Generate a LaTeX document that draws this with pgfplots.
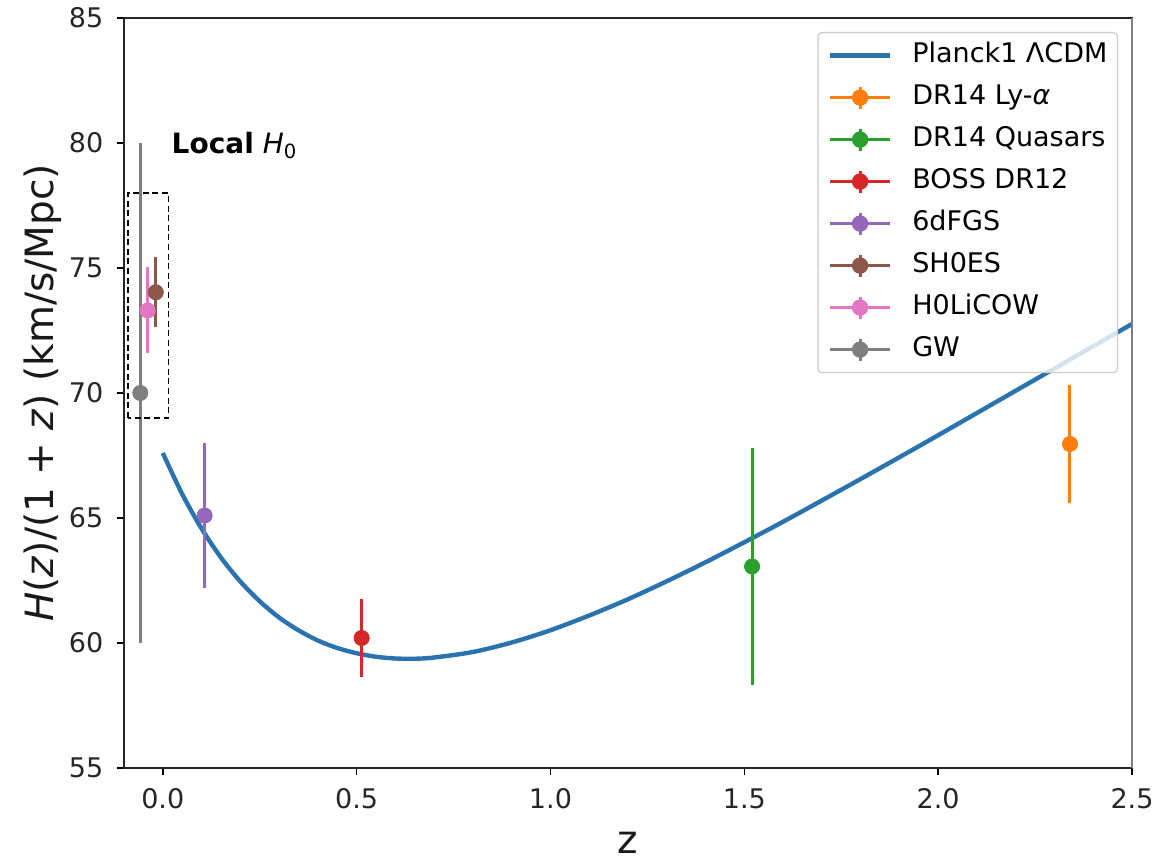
\documentclass[border=0pt]{standalone}
\usepackage{fontspec}
\setmainfont{DejaVu Sans}
\usepackage{pgfplots}
\pgfplotsset{compat=1.18}

\definecolor{tabblue}{HTML}{2A73AE}
\definecolor{taborange}{HTML}{FF7F0E}
\definecolor{tabgreen}{HTML}{2CA02C}
\definecolor{tabred}{HTML}{D62728}
\definecolor{tabpurple}{HTML}{9467BD}
\definecolor{tabbrown}{HTML}{8C564B}
\definecolor{tabpink}{HTML}{E377C2}
\definecolor{tabgray}{HTML}{7F7F7F}

% half-length of the error bar drawn in the legend (0pt: plain line entry)
\tikzset{legbar/.store in=\legbar, legbar=0pt}

% one measurement with a symmetric vertical error bar
\pgfplotsset{
  meas/.style={
    color=#1, mark=*, only marks, mark size=3.8pt,
    mark options={fill=#1, draw=#1},
    legbar=5.5pt,
    error bars/.cd, y dir=both, y explicit,
    error mark=none, error bar style={line width=1.5pt, color=#1}
  }
}

\begin{document}
\begin{tikzpicture}
\begin{axis}[
  scale only axis,
  width=504pt, height=375pt,
  xmin=-0.1, xmax=2.5,
  ymin=55, ymax=85,
  xtick={0,0.5,1,1.5,2,2.5},
  ytick={55,60,65,70,75,80,85},
  xticklabel style={/pgf/number format/fixed, /pgf/number format/fixed zerofill,
    /pgf/number format/precision=1, yshift=-3.4pt},
  yticklabel style={xshift=-3.4pt},
  /pgf/number format/assume math mode=true,
  tick label style={font=\fontsize{13.5}{16}\selectfont, text=black!85},
  tick align=outside,
  xtick pos=bottom, ytick pos=left,
  major tick length=3.4pt,
  every tick/.style={black, line width=0.75pt},
  axis line style={black!85, line width=0.8pt},
  xlabel={z},
  ylabel={\textit{H}(\textit{z})/(1 + \textit{z}) (km/s/Mpc)},
  label style={font=\fontsize{19.5}{23}\selectfont, text=black!90},
  xlabel style={yshift=-4.5pt},
  ylabel style={yshift=-3pt},
  clip=false,
  % legend glyph: line, plus vertical error bar and dot for measurements
  legend image code/.code={
    \begin{scope}[#1]
      \ifdim\legbar>0pt
        \draw[line width=1.5pt, draw opacity=1] (0pt,0pt) -- (30pt,0pt);
        \draw[line width=1.5pt, draw opacity=1] (15pt,-\legbar) -- (15pt,\legbar);
        \fill[fill opacity=1] (15pt,0pt) circle (3.8pt);
      \else
        \draw[draw opacity=1] (0pt,0pt) -- (30pt,0pt);
      \fi
    \end{scope}
  },
  legend cell align=left,
  legend style={
    at={(1,1)}, anchor=north east, xshift=-7pt, yshift=-7pt,
    draw=black!20, rounded corners=2pt, line width=0.6pt,
    fill=white, fill opacity=0.8, draw opacity=1, text opacity=1,
    font=\fontsize{13.5}{16}\selectfont,
    inner xsep=5pt, inner ysep=5pt,
    column sep=10pt, row sep=8pt,
    nodes={inner sep=0pt, text height=10pt, text depth=3pt},
  },
]

% Planck 2018 LCDM expansion rate H(z)/(1+z)
\addplot[color=tabblue, line width=2.2pt, smooth] coordinates {
  (0,67.60) (0.05,65.96) (0.1,64.58) (0.15,63.42) (0.2,62.46) (0.25,61.67)
  (0.3,61.02) (0.35,60.51) (0.4,60.10) (0.45,59.80) (0.5,59.59) (0.55,59.45)
  (0.6,59.38) (0.65,59.37) (0.7,59.42) (0.8,59.64) (0.9,60.02) (1.0,60.51)
  (1.1,61.10) (1.2,61.75) (1.3,62.47) (1.4,63.23) (1.5,64.03) (1.6,64.85)
  (1.7,65.70) (1.8,66.56) (1.9,67.43) (2.0,68.31) (2.1,69.20) (2.2,70.09)
  (2.3,70.98) (2.4,71.87) (2.5,72.76)
};
\addlegendentry{Planck1 ΛCDM}

\addplot[meas=taborange] coordinates {(2.34,67.96) +- (0,2.35)};
\addlegendentry{DR14 Ly-\textit{α}}

\addplot[meas=tabgreen] coordinates {(1.52,63.06) +- (0,4.74)};
\addlegendentry{DR14 Quasars}

\addplot[meas=tabred] coordinates {(0.513,60.20) +- (0,1.55)};
\addlegendentry{BOSS DR12}

\addplot[meas=tabpurple] coordinates {(0.108,65.10) +- (0,2.90)};
\addlegendentry{6dFGS}

\addplot[meas=tabbrown] coordinates {(-0.018,74.03) +- (0,1.40)};
\addlegendentry{SH0ES}

\addplot[meas=tabpink] coordinates {(-0.039,73.30) +- (0,1.72)};
\addlegendentry{H0LiCOW}

\addplot[meas=tabgray] coordinates {(-0.058,70.00) +- (0,10.0)};
\addlegendentry{GW}

% box around the local distance-ladder measurements
\draw[black, line width=0.75pt, dash pattern=on 3pt off 1.8pt]
  (axis cs:-0.09,69) rectangle (axis cs:0.015,78);
\node[anchor=west, inner sep=0pt, font=\fontsize{14}{17}\selectfont]
  at (axis cs:0.022,79.9) {\textbf{Local} \textit{H}\textsubscript{0}};

% right spine
\draw[tabgray, line width=1.2pt] (rel axis cs:1,0) -- (rel axis cs:1,1);
\end{axis}
\pgfresetboundingbox
\useasboundingbox ([shift={(-62pt,-47pt)}]current axis.south west)
  rectangle ([shift={(12.5pt,9pt)}]current axis.north east);
\end{tikzpicture}
\end{document}
